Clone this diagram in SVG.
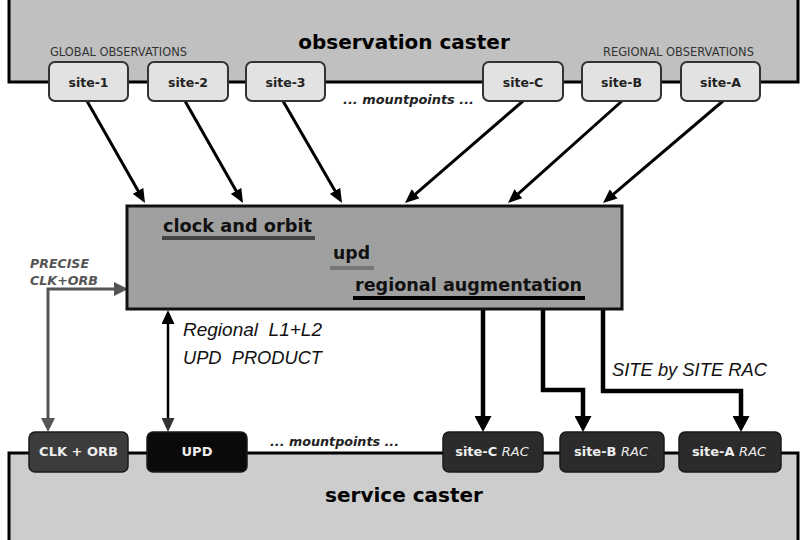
<svg xmlns="http://www.w3.org/2000/svg" width="802" height="540" viewBox="0 0 802 540">
<style>
.caster{stroke:#000;stroke-width:3}
.casterT{font-family:"DejaVu Sans",sans-serif;font-weight:bold;font-size:20px;fill:#000;text-anchor:middle}
.grp{font-family:"DejaVu Sans",sans-serif;font-size:12px;fill:#333}
.mp{font-family:"DejaVu Sans",sans-serif;font-weight:bold;font-style:italic;font-size:13px;fill:#222}
.site rect{fill:#e2e2e2;stroke:#333;stroke-width:2}
.site text{font-family:"DejaVu Sans",sans-serif;font-weight:bold;font-size:12.5px;fill:#222;text-anchor:middle}
.out rect{stroke:#1a1a1a;stroke-width:1.5}
.out text{font-family:"DejaVu Sans",sans-serif;font-weight:bold;font-size:13px;fill:#eee;text-anchor:middle}
.proc{font-family:"DejaVu Sans",sans-serif;font-weight:bold;font-size:18px;fill:#111}
.lbl{font-family:"Liberation Sans",Arial,sans-serif;font-style:italic;font-size:18px;fill:#111}
.prec{font-family:"DejaVu Sans",sans-serif;font-weight:bold;font-style:italic;font-size:12px;fill:#555}
.thin{fill:none;stroke:#000;stroke-width:3}
.thick{fill:none;stroke:#000;stroke-width:4.5;stroke-linejoin:miter}
</style>
<defs>
<marker id="ah" viewBox="0 0 14 12" refX="6" refY="6" markerWidth="14" markerHeight="12" orient="auto" markerUnits="userSpaceOnUse"><path d="M0,0 L14,6 L0,12 z" fill="#000"/></marker>
<marker id="ahT" viewBox="0 0 16 17" refX="8" refY="8.5" markerWidth="16" markerHeight="17" orient="auto" markerUnits="userSpaceOnUse"><path d="M0,0 L16,8.5 L0,17 z" fill="#000"/></marker>
<marker id="ahG" viewBox="0 0 14 14" refX="6" refY="7" markerWidth="14" markerHeight="14" orient="auto-start-reverse" markerUnits="userSpaceOnUse"><path d="M0,0 L14,7 L0,14 z" fill="#555"/></marker>
<marker id="ahB" viewBox="0 0 14 13" refX="6" refY="6.5" markerWidth="14" markerHeight="13" orient="auto-start-reverse" markerUnits="userSpaceOnUse"><path d="M0,0 L14,6.5 L0,13 z" fill="#000"/></marker>
<marker id="ahD" viewBox="0 0 14 13" refX="6" refY="6.5" markerWidth="14" markerHeight="13" orient="auto" markerUnits="userSpaceOnUse"><path d="M0,0 L14,6.5 L0,13 z" fill="#333"/></marker>
</defs>
<rect width="802" height="540" fill="#fff"/>

<g id="observation-caster">
<rect class="caster" x="9" y="-10" width="789" height="92" fill="#c0c0c0"/>
<text class="casterT" x="404" y="49">observation caster</text>
<text class="grp" x="50" y="56" textLength="137" lengthAdjust="spacingAndGlyphs">GLOBAL OBSERVATIONS</text>
<text class="grp" x="603" y="56" textLength="151" lengthAdjust="spacingAndGlyphs">REGIONAL OBSERVATIONS</text>
</g>

<g id="service-caster">
<rect class="caster" x="9" y="453" width="789" height="100" fill="#cdcdcd"/>
<text class="casterT" x="404" y="502">service caster</text>
</g>

<g id="connectors">
<path class="thin" d="M87,101 L141.05,196.05" marker-end="url(#ah)"/>
<path class="thin" d="M185,101 L239.05,196.05" marker-end="url(#ah)"/>
<path class="thin" d="M283,101 L338,196.07" marker-end="url(#ah)"/>
<path class="thin" d="M523,101 L411.05,197.77" marker-end="url(#ah)"/>
<path class="thin" d="M622,101 L513.96,197.67" marker-end="url(#ah)"/>
<path class="thin" d="M723,101 L609.1,197.82" marker-end="url(#ah)"/>
<path class="thick" d="M483,309 V424" marker-end="url(#ahT)"/>
<path class="thick" d="M543,309 V390 H583 V424" marker-end="url(#ahT)"/>
<path class="thick" d="M603,309 V391 H741 V424" marker-end="url(#ahT)"/>
<path d="M48,424 V289 H120" fill="none" stroke="#555" stroke-width="3" marker-start="url(#ahG)" marker-end="url(#ahG)"/>
<path d="M168,318 V424" fill="none" stroke="#000" stroke-width="2.5" marker-start="url(#ahB)" marker-end="url(#ahD)"/>
</g>

<g id="processing">
<rect x="127" y="206" width="495" height="103" fill="#a0a0a0" stroke="#111" stroke-width="3"/>
<text class="proc" x="163" y="232" textLength="149" lengthAdjust="spacingAndGlyphs">clock and orbit</text>
<line x1="162" y1="238" x2="315" y2="238" stroke="#444" stroke-width="4"/>
<text class="proc" x="333" y="259" textLength="37" lengthAdjust="spacingAndGlyphs">upd</text>
<line x1="330" y1="268" x2="374" y2="268" stroke="#777" stroke-width="4"/>
<text class="proc" x="355" y="291" textLength="227" lengthAdjust="spacingAndGlyphs">regional augmentation</text>
<line x1="353" y1="298" x2="585" y2="298" stroke="#000" stroke-width="4"/>
</g>

<g id="labels">
<text class="prec" x="30" y="268" textLength="59" lengthAdjust="spacingAndGlyphs">PRECISE</text>
<text class="prec" x="30" y="285" textLength="68" lengthAdjust="spacingAndGlyphs">CLK+ORB</text>
<text class="lbl" x="183" y="336" xml:space="preserve" textLength="139" lengthAdjust="spacingAndGlyphs">Regional  L1+L2</text>
<text class="lbl" x="183" y="364" xml:space="preserve" textLength="139" lengthAdjust="spacingAndGlyphs">UPD  PRODUCT</text>
<text class="lbl" x="612" y="376" textLength="155" lengthAdjust="spacingAndGlyphs">SITE by SITE RAC</text>
<text class="mp" x="343" y="104" textLength="131" lengthAdjust="spacingAndGlyphs">... mountpoints ...</text>
<text class="mp" x="270" y="446" textLength="129" lengthAdjust="spacingAndGlyphs">... mountpoints ...</text>
</g>

<g id="site-1" class="site"><rect x="49" y="62" width="79" height="39" rx="6"/><text x="88.5" y="87">site-1</text></g>
<g id="site-2" class="site"><rect x="148" y="62" width="80" height="39" rx="6"/><text x="188" y="87">site-2</text></g>
<g id="site-3" class="site"><rect x="246" y="62" width="79" height="39" rx="6"/><text x="285.5" y="87">site-3</text></g>
<g id="site-C" class="site"><rect x="483" y="62" width="80" height="39" rx="6"/><text x="523" y="87">site-C</text></g>
<g id="site-B" class="site"><rect x="582" y="62" width="79" height="39" rx="6"/><text x="621.5" y="87">site-B</text></g>
<g id="site-A" class="site"><rect x="681" y="62" width="79" height="39" rx="6"/><text x="720.5" y="87">site-A</text></g>

<g id="out-clk-orb" class="out"><rect x="29" y="432" width="99" height="40" rx="6" fill="#3c3c3c"/><text x="78.5" y="456">CLK + ORB</text></g>
<g id="out-upd" class="out"><rect x="147" y="432" width="100" height="40" rx="6" fill="#0a0a0a"/><text x="197" y="456">UPD</text></g>
<g id="out-site-C" class="out"><rect x="443" y="432" width="100" height="40" rx="6" fill="#2b2b2b"/><text x="492" y="456">site-C <tspan font-style="italic" font-weight="normal">RAC</tspan></text></g>
<g id="out-site-B" class="out"><rect x="560" y="432" width="104" height="40" rx="6" fill="#2b2b2b"/><text x="611" y="456">site-B  <tspan font-style="italic" font-weight="normal">RAC</tspan></text></g>
<g id="out-site-A" class="out"><rect x="679" y="432" width="102" height="40" rx="6" fill="#2b2b2b"/><text x="729" y="456">site-A <tspan font-style="italic" font-weight="normal">RAC</tspan></text></g>
</svg>
